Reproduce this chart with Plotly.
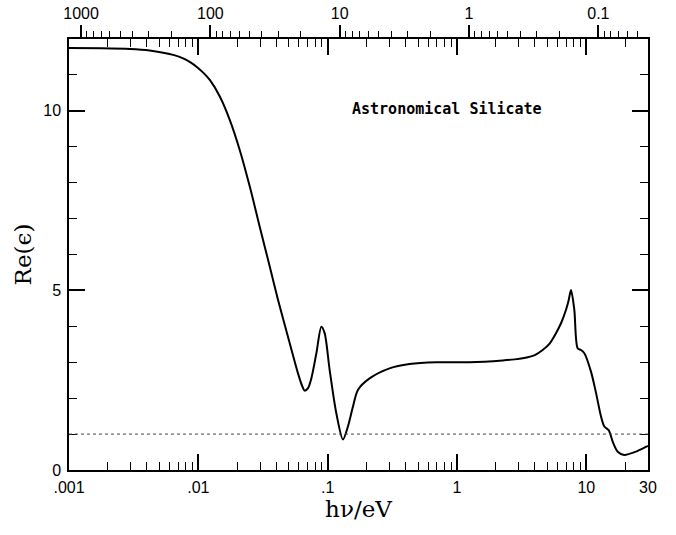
import math
import plotly.graph_objects as go

# ---- data ----
energy_eV = [0.001, 0.0018, 0.00296, 0.0042, 0.00535, 0.0065, 0.00763, 0.0087, 0.00968,
             0.011, 0.01227, 0.01466,
             0.0175, 0.0209, 0.025, 0.0298, 0.0357, 0.0413, 0.0509, 0.059, 0.0632, 0.0664,
             0.0705, 0.0748, 0.0818, 0.0894, 0.0948, 0.1036, 0.1167, 0.1313, 0.1435, 0.1568,
             0.1714, 0.211, 0.301, 0.43, 0.691, 1.25, 2.26, 2.8, 3.22, 4.0, 4.6, 5.2,
             5.83, 6.4, 6.97, 7.3, 7.62, 8.08, 8.57, 9.1, 9.66, 10.87, 11.9, 13.0, 13.8,
             14.9, 16.0, 17.5, 19.6, 24.2, 29.2, 30.0]
re_eps = [11.75, 11.74, 11.72, 11.68, 11.62, 11.55, 11.46, 11.35, 11.23,
          11.05, 10.86, 10.40,
          9.75, 8.91, 7.89, 6.78, 5.66, 4.74, 3.53, 2.69, 2.36, 2.21,
          2.28, 2.55, 3.25, 3.99, 3.81, 2.79, 1.58, 0.85, 1.21, 1.76,
          2.23, 2.55, 2.83, 2.95, 3.0, 3.0, 3.05, 3.08, 3.11, 3.2, 3.34, 3.52,
          3.81, 4.1, 4.46, 4.72, 5.01, 4.46, 3.39, 3.34, 3.25, 2.74, 2.14, 1.49, 1.21,
          1.11, 0.79, 0.51, 0.42, 0.51, 0.65, 0.67]

HC = 1.2398  # eV * micron
x_tickvals = [0.001, 0.01, 0.1, 1, 10, 30]
x_ticktext = [".001", ".01", ".1", "1", "10", "30"]
x_minor = [j * 10.0 ** k for k in range(-3, 1) for j in range(2, 10)] + [20]
lam_tickvals = [1000, 100, 10, 1, 0.1]
lam_ticktext = ["1000", "100", "10", "1", "0.1"]
lam_minor = [j * 10.0 ** k for k in range(-2, 3) for j in range(2, 10)]
y_tickvals = [0, 5, 10]
y_ticktext = ["0", "5", "10"]
label_text = "Astronomical Silicate"

lam_um = [HC / e for e in energy_eV]

fig = go.Figure()
fig.add_trace(go.Scatter(x=energy_eV, y=re_eps, mode="lines",
                         line=dict(color="black", width=2, shape="spline", smoothing=0.8),
                         showlegend=False, hoverinfo="skip"))
fig.add_trace(go.Scatter(x=lam_um, y=re_eps, xaxis="x2", mode="lines",
                         line=dict(color="rgba(0,0,0,0)", width=0),
                         showlegend=False, hoverinfo="skip"))
fig.add_hline(y=1, line=dict(color="#444444", width=1, dash="dot"))

tickfont = dict(family="Liberation Sans", size=16, color="black")
titlefont = dict(family="DejaVu Serif", size=23, color="black")

fig.update_layout(
    width=676, height=535,
    margin=dict(l=69, r=28, t=39, b=65, autoexpand=False),
    paper_bgcolor="white", plot_bgcolor="white",
    xaxis=dict(type="log", range=[math.log10(0.001), math.log10(30)], automargin=False,
               tickmode="array", tickvals=x_tickvals, ticktext=x_ticktext,
               ticks="inside", ticklen=16, tickwidth=1.5, tickcolor="black",
               showline=True, linecolor="black", linewidth=1.5, mirror="ticks",
               showgrid=False, zeroline=False, tickfont=tickfont, ticklabelstandoff=2,
               minor=dict(tickmode="array", tickvals=x_minor, ticks="inside", ticklen=8,
                          tickwidth=1.2, tickcolor="black", showgrid=False),
               title=dict(text="hν/eV", font=titlefont, standoff=1)),
    xaxis2=dict(type="log", overlaying="x", side="top", anchor="y", automargin=False,
                range=[math.log10(HC / 0.001), math.log10(HC / 30)],
                tickmode="array", tickvals=lam_tickvals, ticktext=lam_ticktext,
                ticks="outside", ticklen=13, tickwidth=1.5, tickcolor="black",
                showline=False, showgrid=False, zeroline=False, tickfont=tickfont,
                minor=dict(tickmode="array", tickvals=lam_minor, ticks="outside", ticklen=7,
                           tickwidth=1.2, tickcolor="black", showgrid=False)),
    yaxis=dict(range=[0, 12], automargin=False, tickmode="array", tickvals=y_tickvals,
               ticktext=y_ticktext,
               ticks="inside", ticklen=16, tickwidth=1.5, tickcolor="black",
               showline=True, linecolor="black", linewidth=1.5, mirror="ticks",
               showgrid=False, zeroline=False, tickfont=tickfont, ticklabelstandoff=3,
               minor=dict(dtick=1, ticks="inside", ticklen=8, tickwidth=1.2,
                          tickcolor="black", showgrid=False),
               title=dict(text="Re(ϵ)", font=titlefont, standoff=5)),
    annotations=[dict(text=label_text, xref="paper", yref="paper", x=0.652, y=0.838,
                      showarrow=False, xanchor="center", yanchor="middle",
                      font=dict(family="DejaVu Sans Mono", size=15, color="black", weight="bold"))],
)

fig.write_html("out.html")
